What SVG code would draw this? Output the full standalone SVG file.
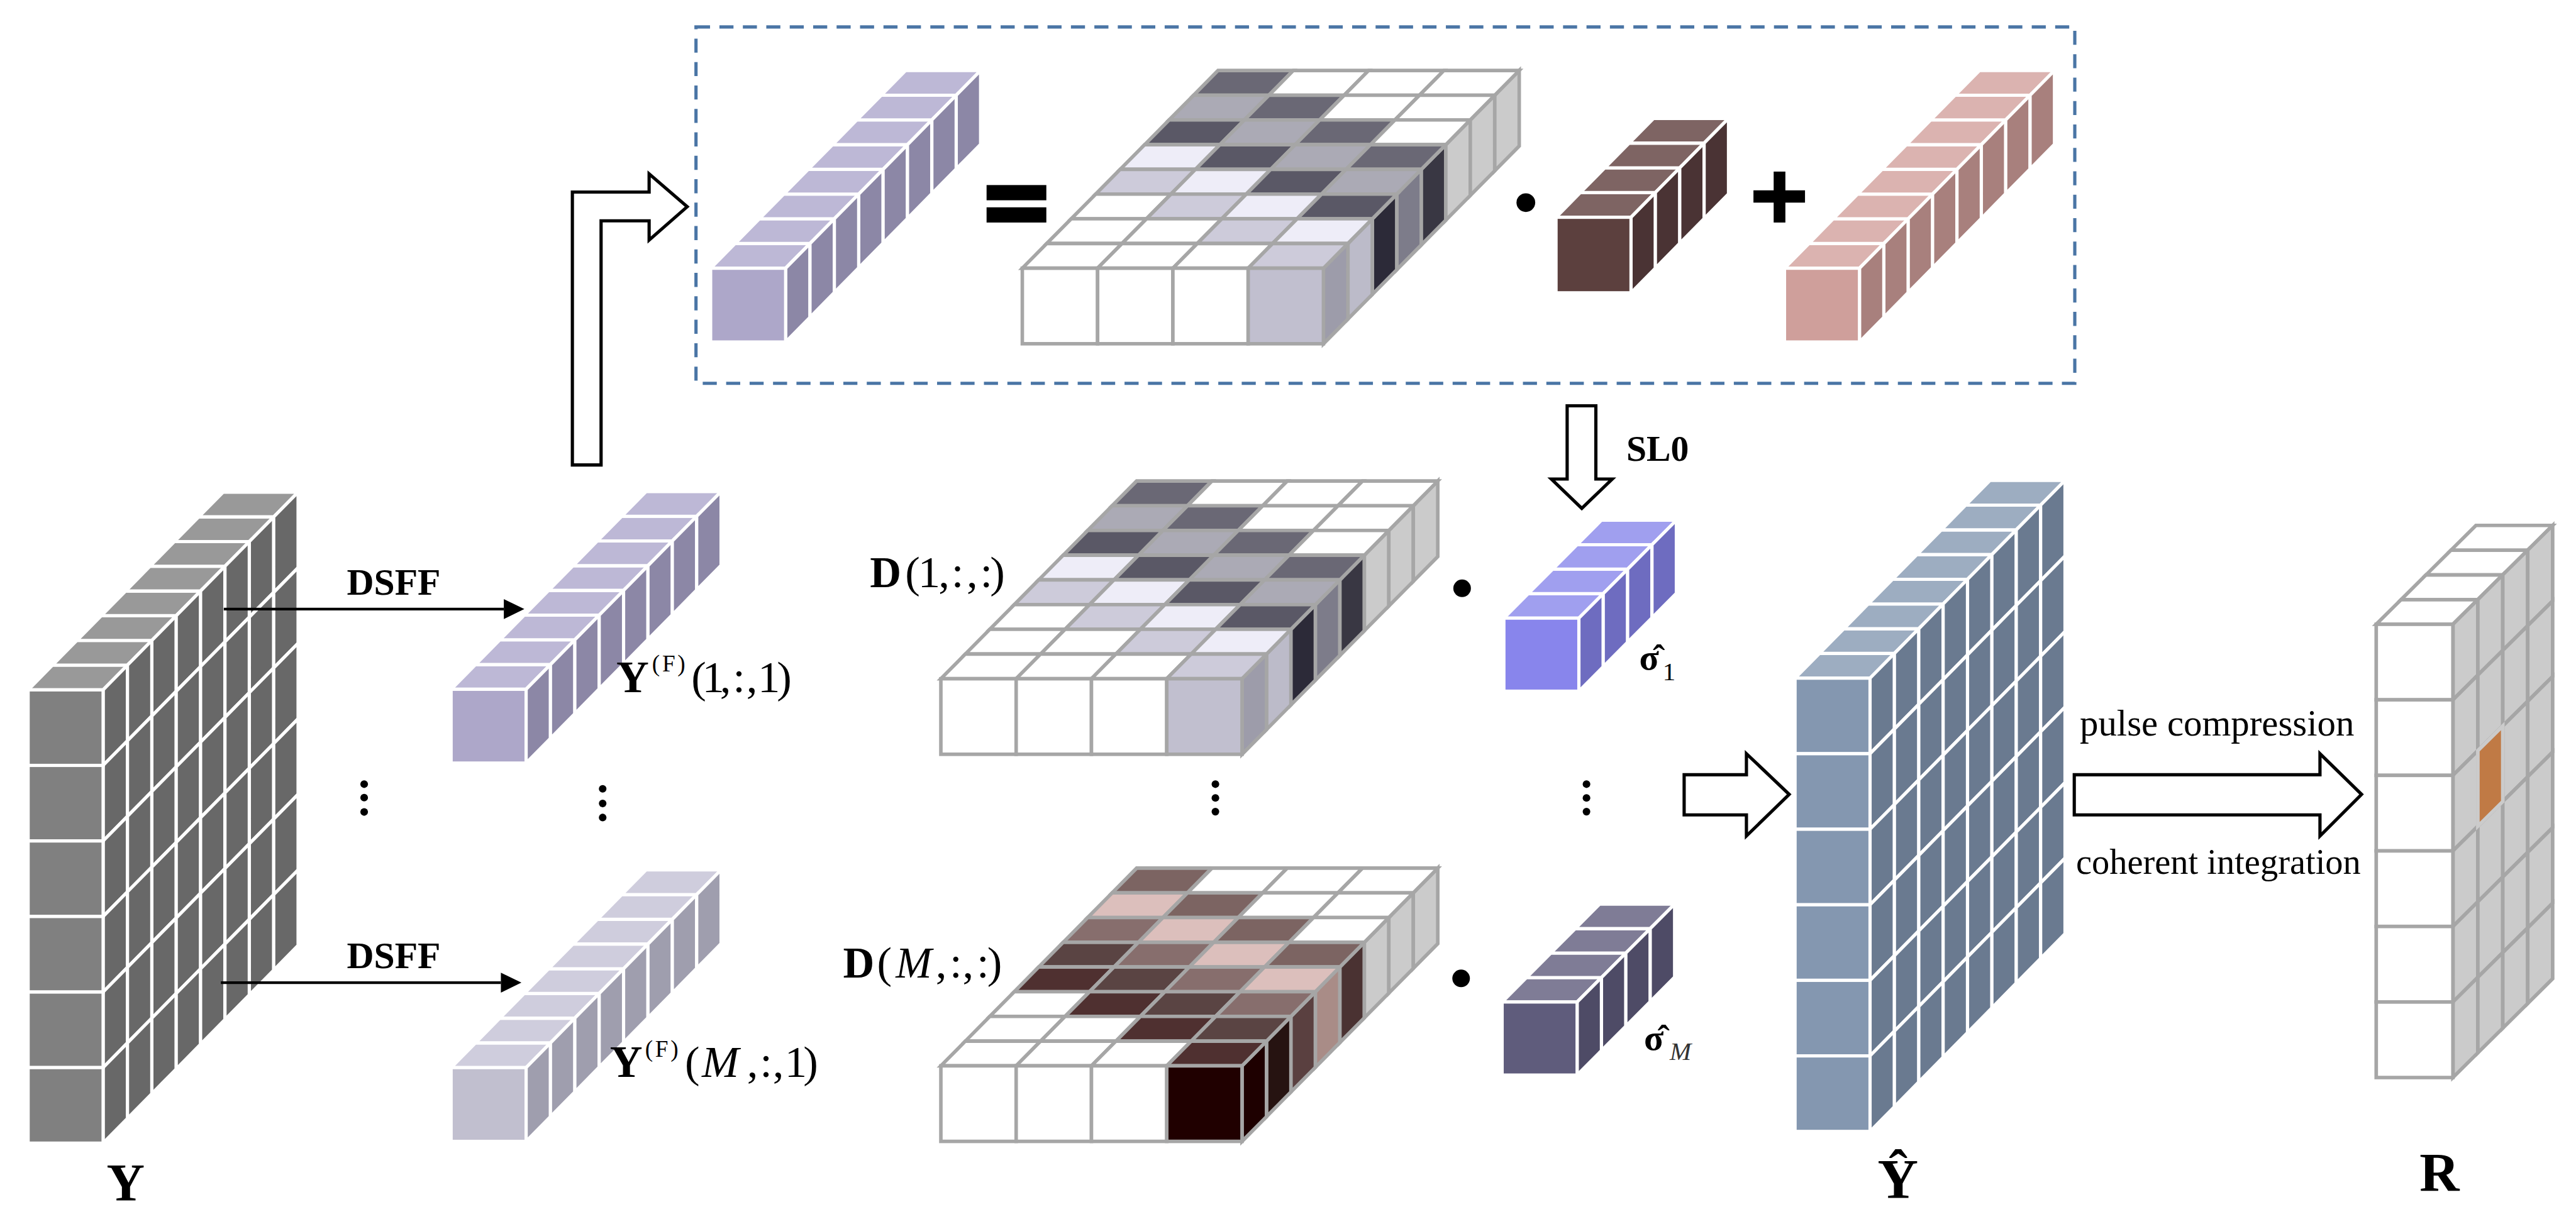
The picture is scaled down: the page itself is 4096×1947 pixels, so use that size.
<svg xmlns="http://www.w3.org/2000/svg" width="4096" height="1947" viewBox="0 0 4096 1947">
<style>
text{font-family:"Liberation Serif","Times New Roman",serif;fill:#000}
.b{font-weight:bold}
.i{font-style:italic}
.wl{stroke:#fff;stroke-width:5.5;stroke-linejoin:miter}
.gl{stroke:#a6a6a6;stroke-width:6;stroke-linejoin:miter}
.w{fill:#fff}
.ta{fill:#6a6875}.tb{fill:#abaab5}.tc{fill:#5a5866}.td{fill:#eeedf8}.te{fill:#cdcbda}
.mp{fill:#7c6462}.mq{fill:#dcbfbc}.mr{fill:#876e6d}.ms{fill:#5a4443}.mt{fill:#4f3030}
.blk{fill:#fff;stroke:#000;stroke-width:5.5;stroke-linejoin:miter}
.ln{fill:none;stroke:#000;stroke-width:4.5;marker-end:url(#head)}
.sym{fill:#000}
</style>
<defs>
<marker id="head" markerUnits="userSpaceOnUse" markerWidth="36" markerHeight="36" refX="0" refY="17" orient="auto" overflow="visible"><path d="M0 0L35 17L0 34z" fill="#000"/></marker>
<path id="tp" d="M0 0l41.6-42.2h128l-41.6 42.2z"/>
<path id="sc" d="M0 0l41.6-42.2v129l-41.6 42.2z"/>
<path id="sb" d="M0 0l41.6-42.2v126l-41.6 42.2z"/>
<rect id="fr" width="128" height="129"/>
<rect id="fb" width="128" height="126"/>
<g id="top4"><use href="#tp"/><use href="#tp" x="41.6" y="-42.2"/><use href="#tp" x="83.2" y="-84.4"/><use href="#tp" x="124.8" y="-126.6"/></g>
<g id="top8"><use href="#top4"/><use href="#top4" x="166.4" y="-168.8"/></g>
<g id="side4"><use href="#sc" x="128"/><use href="#sc" x="169.6" y="-42.2"/><use href="#sc" x="211.2" y="-84.4"/><use href="#sc" x="252.8" y="-126.6"/></g>
<g id="side8"><use href="#side4"/><use href="#side4" x="166.4" y="-168.8"/></g>
<g id="sideb4"><use href="#sb" x="128"/><use href="#sb" x="169.6" y="-42.2"/><use href="#sb" x="211.2" y="-84.4"/><use href="#sb" x="252.8" y="-126.6"/></g>
<g id="sideb8"><use href="#sideb4"/><use href="#sideb4" x="166.4" y="-168.8"/></g>
<g id="side8x6"><use href="#side8"/><use href="#side8" y="129"/><use href="#side8" y="258"/><use href="#side8" y="387"/><use href="#side8" y="516"/><use href="#side8" y="645"/></g>
<g id="side4x6"><use href="#side4"/><use href="#side4" y="129"/><use href="#side4" y="258"/><use href="#side4" y="387"/><use href="#side4" y="516"/><use href="#side4" y="645"/></g>
<g id="front6"><use href="#fr"/><use href="#fr" y="129"/><use href="#fr" y="258"/><use href="#fr" y="387"/><use href="#fr" y="516"/><use href="#fr" y="645"/></g>
<g id="tensorA" class="gl">
<g fill="#cbcbcb"><use href="#sc" x="553.6" y="-42.2" fill="#bcbbc9"/><use href="#sc" x="595.2" y="-84.4" fill="#2c2a38"/><use href="#sc" x="636.8" y="-126.6" fill="#7d7c8a"/><use href="#sc" x="678.4" y="-168.8" fill="#393743"/><use href="#sc" x="720" y="-211"/><use href="#sc" x="761.6" y="-253.2"/><use href="#sc" x="803.2" y="-295.4"/></g>
<use href="#sc" x="512" fill="#9d9caa"/>
<g transform="translate(291.2 -295.4)"><use href="#tp" class="ta"/><use href="#tp" x="128" class="w"/><use href="#tp" x="256" class="w"/><use href="#tp" x="384" class="w"/></g>
<g transform="translate(249.6 -253.2)"><use href="#tp" class="tb"/><use href="#tp" x="128" class="ta"/><use href="#tp" x="256" class="w"/><use href="#tp" x="384" class="w"/></g>
<g transform="translate(208 -211)"><use href="#tp" class="tc"/><use href="#tp" x="128" class="tb"/><use href="#tp" x="256" class="ta"/><use href="#tp" x="384" class="w"/></g>
<g transform="translate(166.4 -168.8)"><use href="#tp" class="td"/><use href="#tp" x="128" class="tc"/><use href="#tp" x="256" class="tb"/><use href="#tp" x="384" class="ta"/></g>
<g transform="translate(124.8 -126.6)"><use href="#tp" class="te"/><use href="#tp" x="128" class="td"/><use href="#tp" x="256" class="tc"/><use href="#tp" x="384" class="tb"/></g>
<g transform="translate(83.2 -84.4)"><use href="#tp" class="w"/><use href="#tp" x="128" class="te"/><use href="#tp" x="256" class="td"/><use href="#tp" x="384" class="tc"/></g>
<g transform="translate(41.6 -42.2)"><use href="#tp" class="w"/><use href="#tp" x="128" class="w"/><use href="#tp" x="256" class="te"/><use href="#tp" x="384" class="td"/></g>
<g><use href="#tp" class="w"/><use href="#tp" x="128" class="w"/><use href="#tp" x="256" class="w"/><use href="#tp" x="384" class="te"/></g>
<use href="#fr" class="w"/><use href="#fr" x="128" class="w"/><use href="#fr" x="256" class="w"/><use href="#fr" x="384" fill="#c1bfcf"/>
</g>
</defs>
<rect width="4096" height="1947" fill="#fff"/>
<g transform="scale(0.93154)">

<g id="dashed-box"><rect x="1188" y="46" width="2353.5" height="608.5" fill="none" stroke="#4a75a5" stroke-width="5.5" stroke-dasharray="24 16"/></g>

<g id="eq-bar-F" class="wl" transform="translate(1213 458)"><use href="#top8" fill="#bdb8d6"/><use href="#sideb8" fill="#8c87a6"/><use href="#fb" fill="#ada7c9"/></g>
<g id="eq-equals"><rect class="sym" x="1684" y="316" width="102" height="26"/><rect class="sym" x="1684" y="354" width="102" height="26"/></g>
<g id="eq-dictionary" transform="translate(1745 458) scale(1.004 1)"><use href="#tensorA"/></g>
<g id="eq-dot"><circle class="sym" cx="2604.5" cy="346" r="16"/></g>
<g id="eq-sigma" class="wl" transform="translate(2656 371)"><use href="#top4" fill="#7e6463"/><use href="#side4" fill="#4a3334"/><use href="#fr" fill="#5c403e"/></g>
<g id="eq-plus"><rect class="sym" x="2993" y="325" width="88" height="21"/><rect class="sym" x="3027.5" y="293" width="20" height="87"/></g>
<g id="eq-noise" class="wl" transform="translate(3046 458)"><use href="#top8" fill="#dbb3b0"/><use href="#sideb8" fill="#a8807d"/><use href="#fb" fill="#cf9f9b"/></g>

<g id="block-Y" class="wl" transform="translate(48 1178)"><use href="#top8" fill="#999"/><use href="#side8x6" fill="#686868"/><use href="#front6" fill="#808080"/></g>
<g id="label-Y"><text class="b" x="182" y="2050" font-size="90">Y</text></g>

<g id="bar-F1" class="wl" transform="translate(770 1177)"><use href="#top8" fill="#bdb8d6"/><use href="#sideb8" fill="#8c87a6"/><use href="#fb" fill="#ada7c9"/></g>
<g id="bar-FM" class="wl" transform="translate(770 1823)"><use href="#top8" fill="#cfcddd"/><use href="#sideb8" fill="#9f9eae"/><use href="#fb" fill="#c1bfcf"/></g>
<g id="label-YF1"><text class="b" x="1052" y="1182" font-size="77">Y</text><text x="1113" y="1147" font-size="40" letter-spacing="4">(F)</text><text x="1180 1198.5 1229 1251 1274 1293.5 1326" y="1182" font-size="76">(1,:,1)</text></g>
<g id="label-YFM"><text class="b" x="1041" y="1839" font-size="77">Y</text><text x="1101" y="1805" font-size="40" letter-spacing="4">(F)</text><text x="1169" y="1839" font-size="76">(</text><text class="i" x="1198" y="1839" font-size="76">M</text><text x="1275 1297 1319 1339.5 1371" y="1839" font-size="76">,:,1)</text></g>

<g id="dots-1"><circle class="sym" cx="621.6" cy="1339" r="6.5"/><circle class="sym" cx="621.6" cy="1362" r="6.5"/><circle class="sym" cx="621.6" cy="1386.5" r="6.5"/></g>
<g id="dots-2"><circle class="sym" cx="1028.7" cy="1347" r="6.5"/><circle class="sym" cx="1028.7" cy="1372" r="6.5"/><circle class="sym" cx="1028.7" cy="1396" r="6.5"/></g>
<g id="dots-3"><circle class="sym" cx="2074.6" cy="1339" r="6.5"/><circle class="sym" cx="2074.6" cy="1362.5" r="6.5"/><circle class="sym" cx="2074.6" cy="1386" r="6.5"/></g>
<g id="dots-4"><circle class="sym" cx="2708" cy="1339" r="6.5"/><circle class="sym" cx="2708" cy="1362.5" r="6.5"/><circle class="sym" cx="2708" cy="1386" r="6.5"/></g>

<g id="tensor-D1" transform="translate(1606 1159) scale(1.004 1)"><use href="#tensorA"/></g>
<g id="label-D1"><text class="b" x="1485" y="1003" font-size="74">D</text><text x="1545 1567 1602 1624 1650 1673 1690" y="1003" font-size="76">(1,:,:)</text></g>

<g id="tensor-DM" class="gl" transform="translate(1606 1820) scale(1.004 1)">
<g fill="#cbcbcb"><use href="#sc" x="553.6" y="-42.2" fill="#261311"/><use href="#sc" x="595.2" y="-84.4" fill="#5a4040"/><use href="#sc" x="636.8" y="-126.6" fill="#a98c87"/><use href="#sc" x="678.4" y="-168.8" fill="#4a3232"/><use href="#sc" x="720" y="-211"/><use href="#sc" x="761.6" y="-253.2"/><use href="#sc" x="803.2" y="-295.4"/></g>
<use href="#sc" x="512" fill="#1e0000"/>
<g transform="translate(291.2 -295.4)"><use href="#tp" class="mp"/><use href="#tp" x="128" class="w"/><use href="#tp" x="256" class="w"/><use href="#tp" x="384" class="w"/></g>
<g transform="translate(249.6 -253.2)"><use href="#tp" class="mq"/><use href="#tp" x="128" class="mp"/><use href="#tp" x="256" class="w"/><use href="#tp" x="384" class="w"/></g>
<g transform="translate(208 -211)"><use href="#tp" class="mr"/><use href="#tp" x="128" class="mq"/><use href="#tp" x="256" class="mp"/><use href="#tp" x="384" class="w"/></g>
<g transform="translate(166.4 -168.8)"><use href="#tp" class="ms"/><use href="#tp" x="128" class="mr"/><use href="#tp" x="256" class="mq"/><use href="#tp" x="384" class="mp"/></g>
<g transform="translate(124.8 -126.6)"><use href="#tp" class="mt"/><use href="#tp" x="128" class="ms"/><use href="#tp" x="256" class="mr"/><use href="#tp" x="384" class="mq"/></g>
<g transform="translate(83.2 -84.4)"><use href="#tp" class="w"/><use href="#tp" x="128" class="mt"/><use href="#tp" x="256" class="ms"/><use href="#tp" x="384" class="mr"/></g>
<g transform="translate(41.6 -42.2)"><use href="#tp" class="w"/><use href="#tp" x="128" class="w"/><use href="#tp" x="256" class="mt"/><use href="#tp" x="384" class="ms"/></g>
<g><use href="#tp" class="w"/><use href="#tp" x="128" class="w"/><use href="#tp" x="256" class="w"/><use href="#tp" x="384" class="mt"/></g>
<use href="#fr" class="w"/><use href="#fr" x="128" class="w"/><use href="#fr" x="256" class="w"/><use href="#fr" x="384" fill="#200000"/>
</g>
<g id="label-DM"><text class="b" x="1439" y="1669" font-size="74">D</text><text x="1497" y="1669" font-size="76">(</text><text class="i" x="1529" y="1669" font-size="74">M</text><text x="1597 1621 1643 1667 1685" y="1669" font-size="76">,:,:)</text></g>

<g id="dot-1"><circle class="sym" cx="2495.7" cy="1004.6" r="15"/></g>
<g id="dot-M"><circle class="sym" cx="2494" cy="1670.7" r="15"/></g>

<g id="sigma-1" class="wl" transform="translate(2567 1055.5) scale(1 .99)"><use href="#top4" fill="#a09fef"/><use href="#sideb4" fill="#6e6cc0"/><use href="#fb" fill="#8885ec"/></g>
<g id="label-sigma1"><text class="b" x="2798" y="1143.5" font-size="62">σ̂</text><text x="2838" y="1161" font-size="44">1</text></g>
<g id="sigma-M" class="wl" transform="translate(2564 1711) scale(1 .99)"><use href="#top4" fill="#7f7c96"/><use href="#sideb4" fill="#4e4b66"/><use href="#fb" fill="#5f5c7c"/></g>
<g id="label-sigmaM"><text class="b" x="2806" y="1793" font-size="62">σ̂</text><text class="i" x="2850" y="1810" font-size="44" style="fill:#333">M</text></g>

<g id="block-Yhat" class="wl" transform="translate(3064 1158)"><use href="#top8" fill="#9dadc1"/><use href="#side8x6" fill="#6a7a90"/><use href="#front6" fill="#8497b0"/></g>
<g id="label-Yhat"><text class="b" x="3205" y="2045" font-size="96">Ŷ</text></g>

<g id="label-pulse"><text x="3550" y="1256" font-size="63.2">pulse compression</text></g>
<g id="label-coherent"><text x="3543.5" y="1492" font-size="60.6">coherent integration</text></g>

<g id="block-R" class="gl" transform="translate(4056 1066) scale(1.023 1)"><use href="#top4" class="w"/><use href="#side4x6" fill="#cbcbcb"/><use href="#sc" x="169.6" y="215.8" fill="#c07a45" style="stroke:#cbcbcb"/><use href="#front6" class="w"/></g>
<g id="label-R"><text class="b" x="4130" y="2033" font-size="94">R</text></g>

<g id="label-dsff"><text class="b" x="592" y="1016" font-size="64">DSFF</text><text class="b" x="592" y="1653" font-size="64">DSFF</text><text class="b" x="2776" y="787" font-size="62">SL0</text></g>

<g id="connectors">
<line class="ln" x1="382" y1="1040" x2="860" y2="1040"/>
<line class="ln" x1="377" y1="1678" x2="855" y2="1678"/>
<polygon class="blk" points="977,794 977,328 1108,328 1108,297 1173,353 1108,410 1108,377 1026,377 1026,794"/>
<polygon class="blk" points="2675,693 2724,693 2724,818 2752,818 2700,868 2648,818 2675,818"/>
<polygon class="blk" points="2874.7,1323 2981,1323 2981,1287 3054,1356.5 2981,1427.5 2981,1391.5 2874.7,1391.5"/>
<polygon class="blk" points="3540.6,1323 3960,1323 3960,1287 4031,1356.5 3960,1427.5 3960,1391.5 3540.6,1391.5"/>
</g>
</g>
</svg>
